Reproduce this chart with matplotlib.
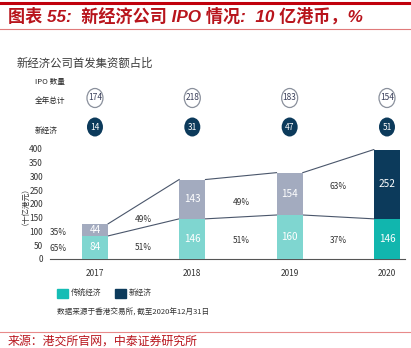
import matplotlib
matplotlib.use("Agg")
import matplotlib.pyplot as plt
from matplotlib.patches import Ellipse
from matplotlib.transforms import blended_transform_factory
from matplotlib.lines import Line2D
import numpy as np

plt.rcParams['font.family'] = ['Liberation Sans Narrow', 'Noto Sans CJK SC', 'DejaVu Sans']

years = ["2017", "2018", "2019", "2020"]
traditional = [84, 146, 160, 146]
new_econ = [44, 143, 154, 252]
ipo_total = [174, 218, 183, 154]
ipo_new = [14, 31, 47, 51]
share_new = ["35%", "49%", "49%", "63%"]
share_trad = ["65%", "51%", "51%", "37%"]
yticks = [0, 50, 100, 150, 200, 250, 300, 350, 400]

# layout: y (data units) of the share labels
share_new_y = [95, 142, 207, 262]
share_trad_y = [38, 40, 69, 69]

W, H = 411, 348
fig = plt.figure(figsize=(W / 100, H / 100), dpi=100)

def fx(px):
    return px / W

def fy(py):
    return 1 - py / H

red = "#b8141c"
cjk = ['Noto Sans CJK SC', 'DejaVu Sans']

# header / footer decorations
fig.add_artist(Line2D([0, 1], [fy(3), fy(3)], color="#c0000c", lw=2.2))
fig.add_artist(Line2D([0, 1], [fy(29), fy(29)], color="#e07a7a", lw=0.8))
fig.add_artist(Line2D([0, 1], [fy(332), fy(332)], color="#e88a8a", lw=0.8))
fig.text(fx(8), fy(16), "图表 55:  新经济公司 IPO 情况:  10 亿港币，%", color=red,
         fontsize=12.3, fontweight="bold", fontstyle="italic",
         family=['Liberation Sans', 'Noto Sans CJK SC'], va="center", ha="left")
fig.text(fx(8), fy(341), "来源：港交所官网，中泰证券研究所", color=red,
         fontsize=8.6, family=cjk, va="center", ha="left")

fig.text(fx(17), fy(63), "新经济公司首发集资额占比", color="#3a3a3a", fontsize=8.2,
         family=cjk, va="center", ha="left")
fig.text(fx(35), fy(82), "IPO 数量", color="#222222", fontsize=5.5, family=cjk, va="center")
fig.text(fx(35), fy(101), "全年总计", color="#222222", fontsize=5.5, family=cjk, va="center")
fig.text(fx(35), fy(131), "新经济", color="#222222", fontsize=5.5, family=cjk, va="center")

# main axes
ax_left, ax_right, ax_top, ax_bot = 50, 405, 149, 259
ax = fig.add_axes([fx(ax_left), fy(ax_bot), (ax_right - ax_left) / W, (ax_bot - ax_top) / H])
x = np.arange(len(years))
bw = 0.27
ax.set_xlim(-0.462, 3.185)
ax.set_ylim(0, 400)

c_trad = ["#7fd6d0", "#7fd6d0", "#7fd6d0", "#11b6ae"]
c_new = ["#a3abbf", "#a3abbf", "#a3abbf", "#0c3a5b"]
ax.bar(x, traditional, bw, color=c_trad, zorder=3)
ax.bar(x, new_econ, bw, bottom=traditional, color=c_new, zorder=3)

totals = [t + n for t, n in zip(traditional, new_econ)]
for i in range(len(years)):
    ax.text(x[i], traditional[i] / 2, str(traditional[i]), color="white",
            ha="center", va="center", fontsize=7.2)
    ax.text(x[i], traditional[i] + new_econ[i] / 2, str(new_econ[i]), color="white",
            ha="center", va="center", fontsize=7.2)

# connecting lines
lc = "#4a566b"
for i in range(len(years) - 1):
    ax.plot([x[i] + bw / 2, x[i + 1] - bw / 2], [totals[i], totals[i + 1]], color=lc, lw=0.8, zorder=2)
    ax.plot([x[i] + bw / 2, x[i + 1] - bw / 2], [traditional[i], traditional[i + 1]], color=lc, lw=0.8, zorder=2)
    xm = (x[i] + x[i + 1]) / 2
    ax.text(xm, share_trad_y[i + 1], share_trad[i + 1], ha="center", va="center", fontsize=6, color="#333333")
    ax.text(xm, share_new_y[i + 1], share_new[i + 1], ha="center", va="center", fontsize=6, color="#333333")

# 2017 shares on the left
ax.text(x[0] - 0.38, share_new_y[0], share_new[0], ha="center", va="center", fontsize=6, color="#333333")
ax.text(x[0] - 0.38, share_trad_y[0], share_trad[0], ha="center", va="center", fontsize=6, color="#333333")

ax.set_yticks(yticks)
ax.set_xticks(x)
ax.set_xticklabels(years)
ax.tick_params(axis="both", length=0, labelsize=6, colors="#333333")
ax.tick_params(axis="x", pad=7)
ax.tick_params(axis="y", pad=5)
for s in ["top", "right", "left"]:
    ax.spines[s].set_visible(False)
ax.spines["bottom"].set_color("#555555")
ax.spines["bottom"].set_linewidth(0.8)
ax.set_facecolor("none")

fig.text(fx(22), fy(202), "（十亿港元）", rotation=90, fontsize=5.5, family=cjk,
         va="center", ha="center", color="#333333")

# IPO count circles
tr = blended_transform_factory(ax.transData, ax.transAxes)
cw = 16 / 97.3
for i in range(len(years)):
    e1 = Ellipse((x[i], (ax_bot - 98) / 110), cw, 19 / 110, transform=tr, facecolor="white",
                 edgecolor="#8a909c", lw=0.9, clip_on=False)
    ax.add_patch(e1)
    ax.text(x[i], (ax_bot - 98) / 110, str(ipo_total[i]), transform=tr, ha="center", va="center",
            fontsize=6, color="#3a3f5a", clip_on=False)
    e2 = Ellipse((x[i], (ax_bot - 127) / 110), cw, 19 / 110, transform=tr, facecolor="#0c3a5b",
                 edgecolor="none", clip_on=False)
    ax.add_patch(e2)
    ax.text(x[i], (ax_bot - 127) / 110, str(ipo_new[i]), transform=tr, ha="center", va="center",
            fontsize=6, color="white", clip_on=False)

# legend
fig.add_artist(plt.Rectangle((fx(57), fy(298)), 11 / W, 9 / H, transform=fig.transFigure,
                             color="#15bdb5"))
fig.text(fx(71), fy(293.5), "传统经济", fontsize=5.5, family=cjk, va="center", color="#333333")
fig.add_artist(plt.Rectangle((fx(115), fy(298)), 11 / W, 9 / H, transform=fig.transFigure,
                             color="#0c3a5b"))
fig.text(fx(129), fy(293.5), "新经济", fontsize=5.5, family=cjk, va="center", color="#333333")
fig.text(fx(57), fy(313), "数据来源于香港交易所, 截至2020年12月31日", fontsize=5.5, family=cjk,
         va="center", color="#333333")

fig.savefig("out.png", dpi=100, facecolor="white")
